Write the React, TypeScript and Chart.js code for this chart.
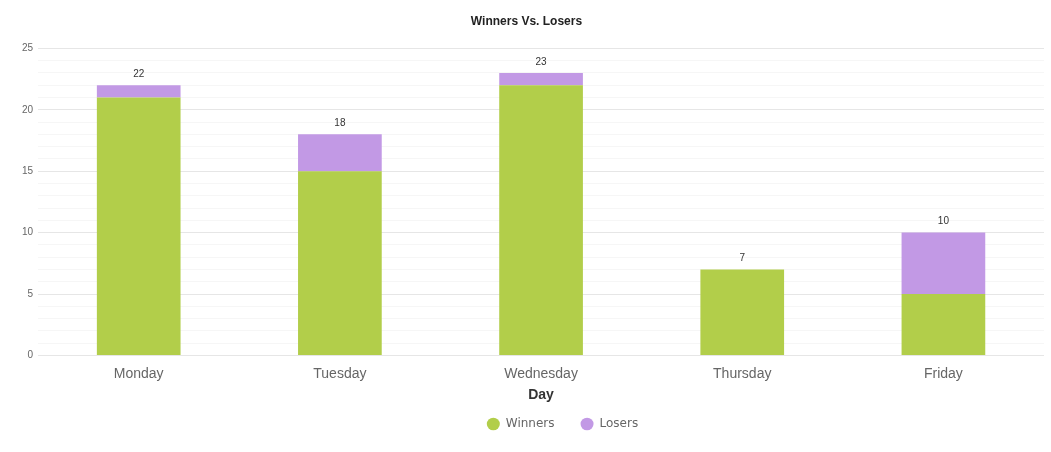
import React, { useEffect, useRef } from "react";
import { Chart, registerables } from "chart.js";

Chart.register(...registerables);

const categories = ["Monday", "Tuesday", "Wednesday", "Thursday", "Friday"];
const winners = [21, 15, 22, 7, 5];
const losers = [1, 3, 1, 0, 5];
const yMax = 25;

const FONT = "'Liberation Sans', Arial, sans-serif";

const totalsPlugin = {
  id: "totals",
  afterDatasetsDraw(chart: any) {
    const ctx = chart.ctx;
    const meta = chart.getDatasetMeta(chart.data.datasets.length - 1);
    const y = chart.scales.y;
    ctx.save();
    ctx.font = "10px " + FONT;
    ctx.fillStyle = "#333";
    ctx.textAlign = "center";
    ctx.textBaseline = "middle";
    categories.forEach((_, i) => {
      const total = winners[i] + losers[i];
      const x = meta.data[i].x;
      ctx.fillText(String(total), x, y.getPixelForValue(total) - 11);
    });
    ctx.restore();
  },
};

const blockShift = {
  id: "blockShift",
  afterLayout(chart: any) {
    const lg = chart.legend;
    if (lg) {
      lg.left += 32;
      lg.right += 32;
      lg.top -= 12;
      lg.bottom -= 12;
    }
    const t = chart.titleBlock;
    if (t) {
      t.left -= 4;
      t.right -= 4;
    }
  },
};

export default function App() {
  const ref = useRef<HTMLCanvasElement | null>(null);
  useEffect(() => {
    document.body.style.margin = "0";
    const chart = new Chart(ref.current!, {
      type: "bar",
      data: {
        labels: categories,
        datasets: [
          {
            label: "Winners",
            data: winners,
            backgroundColor: "#b2ce4a",
            barPercentage: 0.52,
            categoryPercentage: 0.8,
          },
          {
            label: "Losers",
            data: losers,
            backgroundColor: "#c299e5",
            barPercentage: 0.52,
            categoryPercentage: 0.8,
          },
        ],
      },
      options: {
        animation: false,
        responsive: false,
        layout: { padding: { left: 17, right: 7, top: 4, bottom: 0 } },
        plugins: {
          title: {
            display: true,
            text: "Winners Vs. Losers",
            color: "#222",
            font: { size: 12, weight: "bold", family: FONT },
            padding: { top: 10, bottom: 20 },
          },
          legend: {
            position: "bottom",
            labels: {
              usePointStyle: true,
              pointStyle: "circle",
              boxWidth: 13,
              boxHeight: 9,
              pointStyleWidth: 13,
              padding: 26,
              color: "#666",
              font: { size: 12, family: "'DejaVu Sans', sans-serif" },
            },
          },
          tooltip: { enabled: false },
        },
        scales: {
          x: {
            stacked: true,
            grid: { display: false },
            border: { display: false },
            ticks: { color: "#666", font: { size: 14, family: FONT }, padding: 2 },
            title: {
              display: true,
              text: "Day",
              color: "#333",
              font: { size: 14, weight: "bold", family: FONT },
              padding: { top: 3, bottom: 0 },
            },
          },
          y: {
            stacked: true,
            min: 0,
            max: yMax,
            border: { display: false },
            grid: {
              drawTicks: false,
              color: (c: any) => (c.tick && c.tick.value % 5 === 0 ? "#e6e6e6" : "#f6f6f6"),
            },
            ticks: {
              stepSize: 1,
              autoSkip: false,
              padding: 5,
              color: "#666",
              font: { size: 10, family: FONT },
              callback: (v: any) => (v % 5 === 0 ? String(v) : ""),
            },
          },
        },
      },
      plugins: [totalsPlugin, blockShift],
    } as any);
    return () => chart.destroy();
  }, []);
  return (
    <div style={{ width: 1051, height: 452 }}>
      <canvas ref={ref} width={1051} height={452} />
    </div>
  );
}
